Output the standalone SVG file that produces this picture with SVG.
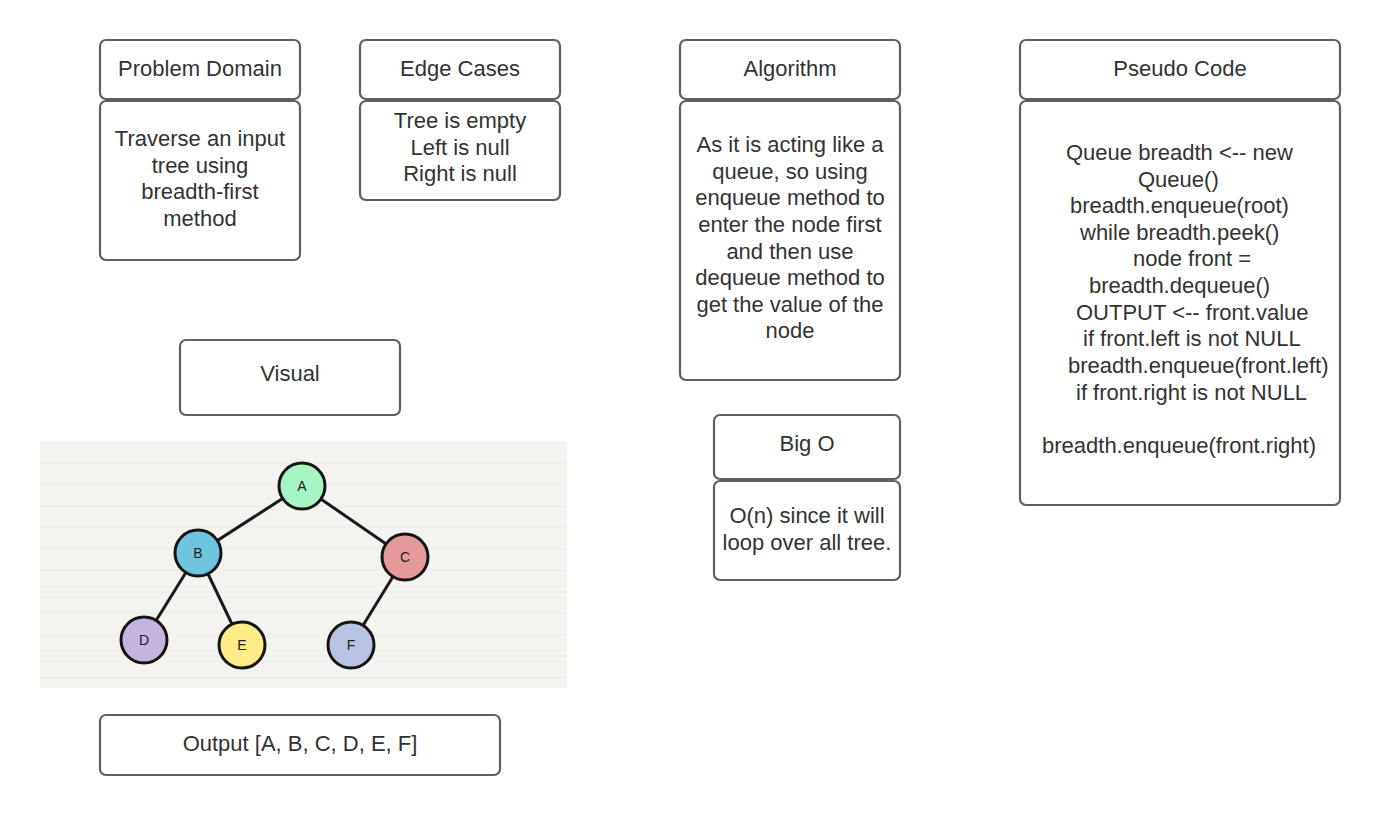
<svg xmlns="http://www.w3.org/2000/svg" width="1380" height="815" viewBox="0 0 1380 815">
<style>
.box{fill:#fff;stroke:#5f5f5f;stroke-width:2.2}
.t{font-family:"Liberation Sans",Arial,sans-serif;font-size:22px;fill:#333;text-anchor:middle}
.ts{font-family:"Liberation Sans",Arial,sans-serif;font-size:22px;fill:#333}
.edge{stroke:#1a1a1a;stroke-width:3;fill:none}
.nd{stroke:#151515;stroke-width:3}
.nl{font-family:"Liberation Sans",Arial,sans-serif;font-size:14px;fill:#222;text-anchor:middle}
.rule{stroke:#e7ecee;stroke-width:1.2}
</style>
<rect width="1380" height="815" fill="#fff"/>

<g id="problem-domain">
<rect class="box" x="100" y="40" width="200" height="59" rx="6"/>
<text class="t" x="200" y="76">Problem Domain</text>
<rect class="box" x="100" y="101" width="200" height="159" rx="6"/>
<text class="t" x="200" y="146">Traverse an input</text>
<text class="t" x="200" y="173">tree using</text>
<text class="t" x="200" y="199">breadth-first</text>
<text class="t" x="200" y="226">method</text>
</g>

<g id="edge-cases">
<rect class="box" x="360" y="40" width="200" height="59" rx="6"/>
<text class="t" x="460" y="76">Edge Cases</text>
<rect class="box" x="360" y="101" width="200" height="99" rx="6"/>
<text class="t" x="460" y="128">Tree is empty</text>
<text class="t" x="460" y="155">Left is null</text>
<text class="t" x="460" y="181">Right is null</text>
</g>

<g id="algorithm">
<rect class="box" x="680" y="40" width="220" height="59" rx="6"/>
<text class="t" x="790" y="76">Algorithm</text>
<rect class="box" x="680" y="101" width="220" height="279" rx="6"/>
<text class="t" x="790" y="152">As it is acting like a</text>
<text class="t" x="790" y="179">queue, so using</text>
<text class="t" x="790" y="205">enqueue method to</text>
<text class="t" x="790" y="232">enter the node first</text>
<text class="t" x="790" y="259">and then use</text>
<text class="t" x="790" y="285">dequeue method to</text>
<text class="t" x="790" y="312">get the value of the</text>
<text class="t" x="790" y="338">node</text>
</g>

<g id="pseudo-code">
<rect class="box" x="1020" y="40" width="320" height="59" rx="6"/>
<text class="t" x="1180" y="76">Pseudo Code</text>
<rect class="box" x="1020" y="101" width="320" height="404" rx="6"/>
<text class="ts" x="1066" y="160">Queue breadth &lt;-- new</text>
<text class="ts" x="1138" y="187">Queue()</text>
<text class="ts" x="1070" y="213">breadth.enqueue(root)</text>
<text class="ts" x="1080" y="240">while breadth.peek()</text>
<text class="ts" x="1133" y="266">node front =</text>
<text class="ts" x="1089" y="293">breadth.dequeue()</text>
<text class="ts" x="1076" y="320">OUTPUT &lt;-- front.value</text>
<text class="ts" x="1083" y="346">if front.left is not NULL</text>
<text class="ts" x="1068" y="373">breadth.enqueue(front.left)</text>
<text class="ts" x="1076" y="400">if front.right is not NULL</text>
<text class="ts" x="1042" y="453">breadth.enqueue(front.right)</text>
</g>

<g id="visual">
<rect class="box" x="180" y="340" width="220" height="75" rx="6"/>
<text class="t" x="290" y="381">Visual</text>
</g>

<g id="big-o">
<rect class="box" x="714" y="415" width="186" height="64" rx="6"/>
<text class="t" x="807" y="451">Big O</text>
<rect class="box" x="714" y="481" width="186" height="99" rx="6"/>
<text class="t" x="807" y="523">O(n) since it will</text>
<text class="t" x="807" y="550">loop over all tree.</text>
</g>

<g id="output">
<rect class="box" x="100" y="715" width="400" height="60" rx="6"/>
<text class="t" x="300" y="751">Output [A, B, C, D, E, F]</text>
</g>

<g id="tree-picture">
<rect x="40" y="441" width="527" height="247" fill="#f4f3f0"/>
<line class="rule" x1="40" y1="463" x2="567" y2="463"/>
<line class="rule" x1="40" y1="484" x2="567" y2="484"/>
<line class="rule" x1="40" y1="506" x2="567" y2="506"/>
<line class="rule" x1="40" y1="527" x2="567" y2="527"/>
<line class="rule" x1="40" y1="549" x2="567" y2="549"/>
<line class="rule" x1="40" y1="570" x2="567" y2="570"/>
<line class="rule" x1="40" y1="592" x2="567" y2="592"/>
<line class="rule" x1="40" y1="613" x2="567" y2="613"/>
<line class="rule" x1="40" y1="635" x2="567" y2="635"/>
<line class="rule" x1="40" y1="656" x2="567" y2="656"/>
<line class="rule" x1="40" y1="678" x2="567" y2="678"/>
</g>

<g id="connectors">
<line class="edge" x1="302" y1="486" x2="198" y2="553"/>
<line class="edge" x1="302" y1="486" x2="405" y2="557"/>
<line class="edge" x1="198" y1="553" x2="144" y2="640"/>
<line class="edge" x1="198" y1="553" x2="242" y2="645"/>
<line class="edge" x1="405" y1="557" x2="351" y2="645"/>
</g>

<g id="node-A"><circle class="nd" cx="302" cy="486" r="23" fill="#a7f5c3"/><text class="nl" x="302" y="491">A</text></g>
<g id="node-B"><circle class="nd" cx="198" cy="553" r="23" fill="#6ec5dd"/><text class="nl" x="198" y="558">B</text></g>
<g id="node-C"><circle class="nd" cx="405" cy="557" r="23" fill="#e49a9a"/><text class="nl" x="405" y="562">C</text></g>
<g id="node-D"><circle class="nd" cx="144" cy="640" r="23" fill="#c7b4dd"/><text class="nl" x="144" y="645">D</text></g>
<g id="node-E"><circle class="nd" cx="242" cy="645" r="23" fill="#fdec87"/><text class="nl" x="242" y="650">E</text></g>
<g id="node-F"><circle class="nd" cx="351" cy="645" r="23" fill="#b9c4e4"/><text class="nl" x="351" y="650">F</text></g>
</svg>
